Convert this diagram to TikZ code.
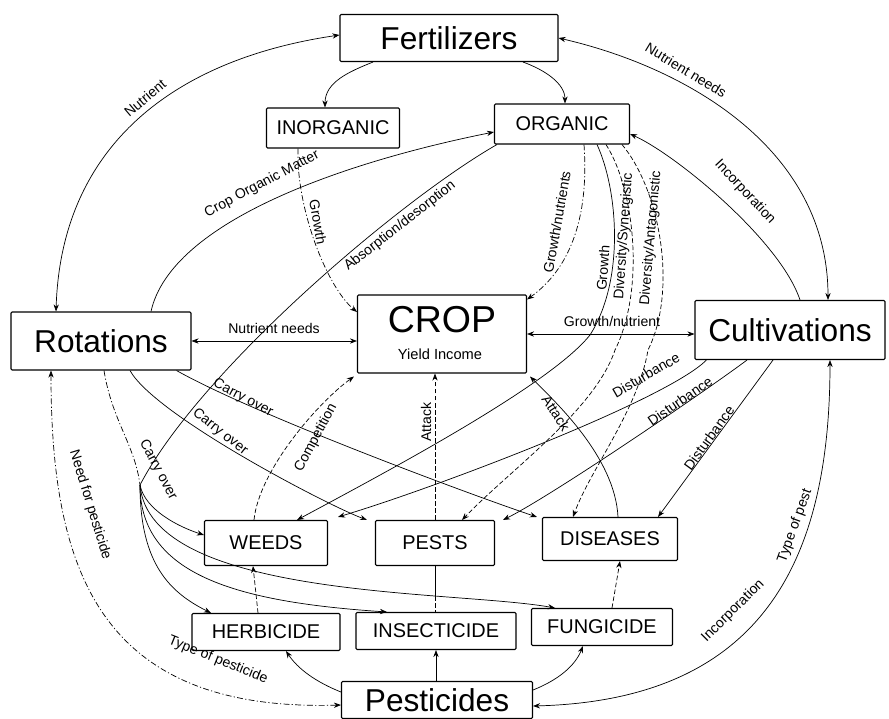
\documentclass[tikz,border=0pt]{standalone}
\usepackage{fontspec}
\setmainfont{Liberation Sans}
\usetikzlibrary{arrows.meta,calc}
\newcommand{\labfont}{\fontsize{12}{14}\selectfont}
\begin{document}
\begin{tikzpicture}[x=0.03cm,y=-0.03cm,
  box/.style={draw, line width=0.9pt, rounded corners=1pt, inner sep=0pt},
  bigtxt/.style={font=\fontsize{27}{30}\selectfont},
  midtxt/.style={font=\fontsize{17}{20}\selectfont},
  lab/.style={font=\labfont, inner sep=0.5pt},
  con/.style={line width=0.6pt, -{Stealth[length=6pt,width=4.5pt]}},
  bicon/.style={line width=0.6pt, {Stealth[length=6pt,width=4.5pt]}-{Stealth[length=6pt,width=4.5pt]}},
  dd/.style={dash pattern=on 5pt off 2pt on 1pt off 2pt},
  ds/.style={dash pattern=on 4pt off 2pt}]
\path[use as bounding box, fill=white] (0,0) rectangle (889,718);

% ---------- nodes ----------
\node[box, bigtxt, minimum width=6.54cm, minimum height=1.41cm] (fert) at (449,38) {Fertilizers};
\node[box, midtxt, minimum width=3.99cm, minimum height=1.2cm] (inorg) at (333,128) {INORGANIC};
\node[box, midtxt, minimum width=4.05cm, minimum height=1.2cm] (org) at (562,124) {ORGANIC};
\node[box, minimum width=5.07cm, minimum height=2.34cm] (crop) at (442,334) {};
\node[font=\fontsize{32}{34}\selectfont] (croptxt) at (442,320) {CROP};
\node[font=\fontsize{12.5}{14}\selectfont] (yield) at (440,354) {Yield Income};
\node[box, bigtxt, minimum width=5.4cm, minimum height=1.74cm] (rot) at (101,341) {Rotations};
\node[box, bigtxt, minimum width=5.7cm, minimum height=1.77cm] (cult) at (790,330) {Cultivations};
\node[box, midtxt, minimum width=3.69cm, minimum height=1.35cm] (weeds) at (266,543) {WEEDS};
\node[box, midtxt, minimum width=3.57cm, minimum height=1.35cm] (pests) at (435,543) {PESTS};
\node[box, midtxt, minimum width=4.05cm, minimum height=1.29cm] (dis) at (610,539) {DISEASES};
\node[box, midtxt, minimum width=4.44cm, minimum height=1.11cm] (herb) at (266,632) {HERBICIDE};
\node[box, midtxt, minimum width=4.8cm, minimum height=1.11cm] (insect) at (436,631) {INSECTICIDE};
\node[box, midtxt, minimum width=4.23cm, minimum height=1.11cm] (fung) at (602,627) {FUNGICIDE};
\node[box, bigtxt, minimum width=5.73cm, minimum height=1.11cm] (pest) at (437,700) {Pesticides};

\coordinate (J) at (140,485);
\coordinate (pj) at (435,596);

% ---------- Fertilizers ----------
\draw[con] ($(fert.south)+(-76,0)$) .. controls +(-25,10) and +(0,-25) .. ($(inorg.north)+(-8,0)$);
\draw[con] ($(fert.south)+(74,0)$) .. controls +(22,8) and +(0,-20) .. ($(org.north)+(3,0)$);
\draw[bicon] ($(rot.north)+(-45,0)$) .. controls +(5,-162) and +(-170,25) .. ($(fert.west)+(0,-3)$);
\node[lab, rotate=40] (l1) at (145,98) {Nutrient};
\draw[bicon] (fert.east) .. controls +(130,30) and +(0,-150) .. ($(cult.north)+(38,0)$);
\node[lab, rotate=-31] (l2) at (686,70) {Nutrient needs};

% ---------- ORGANIC ----------
\draw[con] ($(cult.north)+(10,0)$) .. controls +(-20,-60) and +(45,20) .. ($(org.east)+(0,10)$);
\node[lab, rotate=-47] (l3) at (745,192) {Incorporation};
\draw[con] ($(rot.north)+(50,0)$) .. controls +(20,-90) and +(-150,30) .. ($(org.west)+(0,8)$);
\node[lab, rotate=28] (l4) at (262,184) {Crop Organic Matter};
\draw[line width=0.6pt] ($(org.south west)+(3,0)$) .. controls (400,200) and (200,370) .. (J);
\node[lab, rotate=38] (l5) at (400,226) {Absorption/desorption};
\draw[con, dd] ($(inorg.south)+(-35,0)$) .. controls +(-2,60) and +(-30,-25) .. ($(crop.west)+(0,-22)$);
\node[lab, rotate=-80] (l6) at (318,222) {Growth};

\draw[con, dd] ($(org.south)+(22,0)$) .. controls +(6,86) and +(35,-25) .. ($(crop.north east)+(0,5)$);
\node[lab, rotate=80] (l7) at (557,222) {Growth/nutrients};
\draw[con] ($(org.south)+(35,0)$) .. controls (618,190) and (625,280) .. (590,335) .. controls (550,385) and (390,470) .. ($(weeds.north east)+(-31,0)$);
\node[lab, rotate=86] (l8) at (603,268) {Growth};
\draw[con, ds] ($(org.south)+(44,0)$) .. controls (635,190) and (645,290) .. (615,350) .. controls (595,410) and (510,470) .. ($(pests.north)+(27,0)$);
\node[lab, rotate=86] (l9) at (624,236) {Diversity/Synergistic};
\draw[con, ds] ($(org.south)+(60,0)$) .. controls (660,190) and (678,290) .. (648,350) .. controls (638,410) and (590,470) .. ($(dis.north)+(-37,0)$);
\node[lab, rotate=85] (l10) at (651,238) {Diversity/Antagonistic};

% ---------- CROP links ----------
\draw[bicon] (rot.east) -- (rot.east -| crop.west);
\node[lab] (l11) at (274,328) {Nutrient needs};
\draw[bicon] (crop.east) -- (crop.east -| cult.west);
\node[lab] (l12) at (612,321) {Growth/nutrient};
\draw[con, ds] ($(weeds.north)+(-12,0)$) .. controls +(5,-50) and +(-35,25) .. ($(crop.south west)+(-3,3)$);
\node[lab, rotate=62] (l13) at (316,438) {Competition};
\draw[con, ds] (pests.north) -- (pests.north |- crop.south);
\node[lab, rotate=90] (l14) at (426,422) {Attack};
\draw[con] ($(dis.north)+(8,0)$) .. controls +(-3,-60) and +(25,25) .. ($(crop.south east)+(3,3)$);
\node[lab, rotate=-57] (l15) at (556,413) {Attack};

% ---------- Rotations carry over ----------
\draw[con] ($(rot.south east)+(-15,0)$) .. controls +(80,45) and +(-60,-20) .. ($(dis.north west)+(-5,0)$);
\node[lab, rotate=-28] (l16) at (243,398) {Carry over};
\draw[con] ($(rot.south)+(29,0)$) .. controls +(25,45) and +(-40,-15) .. ($(pests.north west)+(-8,0)$);
\node[lab, rotate=-38] (l17) at (220,432) {Carry over};
\draw[dd, line width=0.6pt] ($(rot.south)+(3,0)$) .. controls +(8,50) and +(-5,-40) .. (J);
\node[lab, rotate=-62] (l18) at (158,470) {Carry over};
\draw[con] (J) .. controls +(5,25) and +(-25,-8) .. ($(weeds.west)+(0,-8)$);
\draw[con] (J) .. controls +(0,80) and +(-40,-20) .. ($(herb.north)+(-55,0)$);
\draw[con] (J) .. controls +(0,90) and +(-150,-10) .. ($(insect.north)+(-49,0)$);
\draw[con] (J) .. controls +(10,115) and +(-100,-18) .. ($(fung.north)+(-47,0)$);
\draw[line width=0.6pt] (pests.south) -- (pj);
\draw[ds, line width=0.6pt] (pj) -- (pj |- insect.north);

% ---------- Cultivations disturbance ----------
\draw[con] ($(cult.south west)+(12,0)$) .. controls +(-40,40) and +(100,-30) .. ($(weeds.north east)+(10,-3)$);
\node[lab, rotate=30] (l19) at (646,375) {Disturbance};
\draw[con] ($(cult.south)+(-43,0)$) .. controls +(-40,30) and +(50,-25) .. ($(pests.north east)+(8,0)$);
\node[lab, rotate=35] (l20) at (680,401) {Disturbance};
\draw[con] ($(cult.south)+(-17,0)$) -- ($(dis.north east)+(-20,0)$);
\node[lab, rotate=54] (l21) at (709,438) {Disturbance};

% ---------- Pesticides ----------
\draw[con] (insect.south |- pest.north) -- (insect.south);
\draw[con] ($(pest.west)+(0,-8)$) .. controls +(-25,-10) and +(12,18) .. ($(herb.south)+(20,0)$);
\draw[con] ($(pest.east)+(0,-10)$) .. controls +(25,-10) and +(-8,20) .. ($(fung.south)+(-19,0)$);
\draw[con, ds] ($(herb.north)+(-8,0)$) -- ($(weeds.south)+(-13,0)$);
\draw[con, ds] ($(fung.north)+(10,0)$) -- ($(dis.south)+(10,0)$);
\draw[bicon, dd] ($(rot.south)+(-50,0)$) .. controls +(0,200) and +(-241.5,7) .. ($(pest.west)+(0,5)$);
\node[lab, rotate=-73] (l22) at (90,505) {Need for pesticide};
\node[lab, rotate=-22] (l23) at (218,660) {Type of pesticide};
\draw[bicon] ($(cult.south)+(40,0)$) .. controls +(0,200) and +(230,-6) .. ($(pest.east)+(0,6)$);
\node[lab, rotate=45] (l24) at (733,611) {Incorporation};
\node[lab, rotate=70] (l25) at (795,526) {Type of pest};
\end{tikzpicture}
\end{document}
